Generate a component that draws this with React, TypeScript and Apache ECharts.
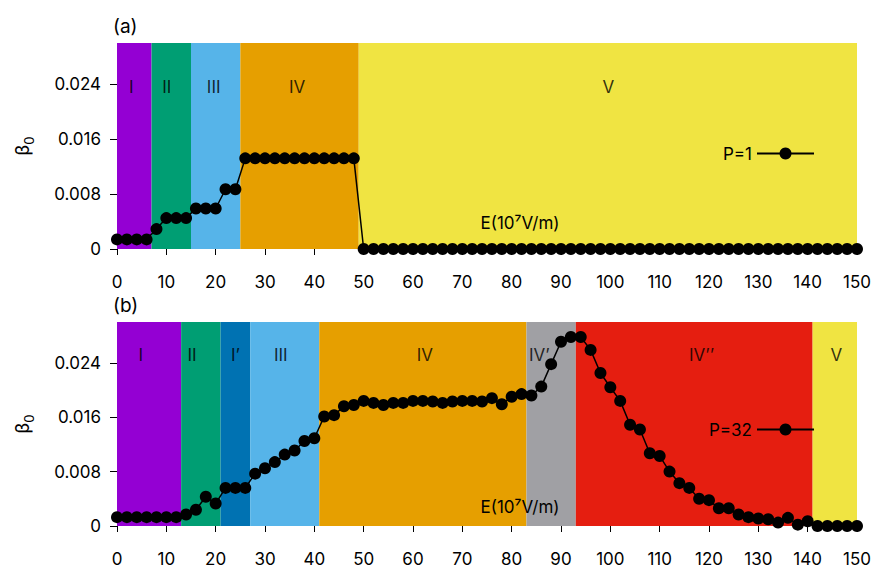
import React, { useEffect, useRef } from "react";
import * as echarts from "echarts";

// E values (10^7 V/m)
const E = [
  0, 2, 4, 6, 8, 10, 12, 14, 16, 18, 20, 22, 24, 26, 28, 30, 32, 34, 36, 38,
  40, 42, 44, 46, 48, 50, 52, 54, 56, 58, 60, 62, 64, 66, 68, 70, 72, 74, 76, 78,
  80, 82, 84, 86, 88, 90, 92, 94, 96, 98, 100, 102, 104, 106, 108, 110, 112, 114, 116, 118,
  120, 122, 124, 126, 128, 130, 132, 134, 136, 138, 140, 142, 144, 146, 148, 150,
];

// beta_0 for P=1
const betaP1 = [
  0.0014, 0.0014, 0.0014, 0.0014, 0.0029, 0.0045, 0.0045, 0.0045, 0.0059, 0.0059,
  0.0059, 0.0087, 0.0087, 0.0132, 0.0132, 0.0132, 0.0132, 0.0132, 0.0132, 0.0132,
  0.0132, 0.0132, 0.0132, 0.0132, 0.0132, 0, 0, 0, 0, 0,
  0, 0, 0, 0, 0, 0, 0, 0, 0, 0,
  0, 0, 0, 0, 0, 0, 0, 0, 0, 0,
  0, 0, 0, 0, 0, 0, 0, 0, 0, 0,
  0, 0, 0, 0, 0, 0, 0, 0, 0, 0,
  0, 0, 0, 0, 0, 0,
];

// beta_0 for P=32
const betaP32 = [
  0.0013, 0.0013, 0.0013, 0.0013, 0.0013, 0.0013, 0.0013, 0.0017, 0.0024, 0.0043,
  0.0033, 0.0056, 0.0056, 0.0056, 0.0077, 0.0085, 0.0094, 0.0105, 0.0111, 0.0125,
  0.0129, 0.0161, 0.0163, 0.0176, 0.0178, 0.0184, 0.0181, 0.0178, 0.0181, 0.0181,
  0.0184, 0.0184, 0.0183, 0.0181, 0.0183, 0.0184, 0.0184, 0.0183, 0.0188, 0.0179,
  0.019, 0.0194, 0.0192, 0.0205, 0.0238, 0.0271, 0.0278, 0.0278, 0.0259, 0.0225,
  0.0204, 0.0184, 0.0149, 0.0142, 0.0107, 0.0103, 0.008, 0.0063, 0.0056, 0.004,
  0.0038, 0.0026, 0.0026, 0.0017, 0.0013, 0.0011, 0.001, 0.0005, 0.0012, 0.0002,
  0.0007, 0, 0, 0, 0, 0,
];

const xTicksInterval = 10;
const yTicks = [0, 0.008, 0.016, 0.024];

// Regions (a)
const regionBoundsA = [0, 7, 15, 25, 49, 150];
const regionNamesA = ["I", "II", "III", "IV", "V"];
const regionLabelXA = [2.9, 10.1, 19.6, 36.5, 99.6];
// Regions (b)
const regionBoundsB = [0, 13, 21, 27, 41, 83, 93, 141, 150];
const regionNamesB = ["I", "II", "I’", "III", "IV", "IV’", "IV’’", "V"];
const regionLabelXB = [4.8, 15.2, 24.0, 33.2, 62.4, 85.6, 118.5, 145.8];

const colorsA = ["#9400D3", "#009E73", "#56B4E9", "#E69F00", "#F0E442"];
const colorsB = ["#9400D3", "#009E73", "#0072B2", "#56B4E9", "#E69F00", "#A0A0A4", "#E51E10", "#F0E442"];

const FONT = "Inter";

function makeArea(bounds: number[], colors: string[]) {
  const out: any[] = [];
  for (let i = 0; i < bounds.length - 1; i++) {
    out.push([
      { xAxis: bounds[i], itemStyle: { color: colors[i], opacity: 1 } },
      { xAxis: bounds[i + 1] },
    ]);
  }
  return out;
}

export default function App() {
  const ref = useRef<HTMLDivElement>(null);
  useEffect(() => {
    if (!ref.current) return;
    const chart = echarts.init(ref.current, undefined, { renderer: "svg" });
    const xAxisBase = (i: number) => ({
      type: "value",
      gridIndex: i,
      min: 0,
      max: 150,
      interval: xTicksInterval,
      axisLine: { show: false },
      axisTick: { show: true, length: 6, lineStyle: { color: "#000", width: 1 } },
      axisLabel: { color: "#000", fontSize: 17, margin: 24, fontFamily: FONT },
      splitLine: { show: false },
    });
    const yAxisBase = (i: number) => ({
      type: "value",
      gridIndex: i,
      min: 0,
      max: 0.03,
      name: "{a|β}{b|0}",
      nameLocation: "middle",
      nameGap: 82,
      nameRotate: 90,
      nameTextStyle: {
        color: "#000",
        fontFamily: FONT,
        rich: {
          a: { fontSize: 18, lineHeight: 26, fontFamily: FONT, color: "#000" },
          b: { fontSize: 13, lineHeight: 14, verticalAlign: "bottom", fontFamily: FONT, color: "#000" },
        },
      },
      axisLine: { show: false },
      axisTick: { show: true, length: 7, customValues: yTicks, lineStyle: { color: "#000", width: 1 } },
      axisLabel: {
        color: "#000",
        fontSize: 17,
        margin: 16,
        fontFamily: FONT,
        customValues: yTicks,
        formatter: (v: number) => (v === 0 ? "0" : v.toFixed(3)),
      },
      splitLine: { show: false },
    });
    const lineSeries = (name: string, vals: number[], idx: number, bounds: number[], colors: string[]) => ({
      name,
      type: "line",
      xAxisIndex: idx,
      yAxisIndex: idx,
      data: E.map((x, i) => [x, vals[i]]),
      symbol: "circle",
      symbolSize: 12,
      showAllSymbol: true,
      itemStyle: { color: "#000" },
      lineStyle: { color: "#000", width: 1.5 },
      z: 3,
      clip: false,
      markArea: { silent: true, z: 1, data: makeArea(bounds, colors) },
    });
    const labelSeries = (names: string[], xs: number[], y: number, idx: number) => ({
      type: "scatter",
      xAxisIndex: idx,
      yAxisIndex: idx,
      symbolSize: 1,
      silent: true,
      z: 5,
      itemStyle: { color: "rgba(0,0,0,0)" },
      label: {
        show: true,
        position: "inside",
        formatter: "{b}",
        color: "#000",
        fontSize: 17,
        fontFamily: FONT,
      },
      data: names.map((n, i) => ({ name: n, value: [xs[i], y] })),
    });
    const legendBase = (name: string, top: number) => ({
      data: [name],
      right: 56,
      top,
      align: "right",
      itemWidth: 57,
      itemHeight: 15,
      selectedMode: false,
      textStyle: { fontSize: 17, color: "#000", fontFamily: FONT },
    });
    const option: any = {
      animation: false,
      textStyle: { fontFamily: FONT },
      grid: [
        { left: 117, right: 19, top: 43, height: 206 },
        { left: 117, right: 19, top: 322, height: 206 },
      ],
      xAxis: [xAxisBase(0), xAxisBase(1)],
      yAxis: [yAxisBase(0), yAxisBase(1)],
      legend: [legendBase("P=1", 140), legendBase("P=32", 416)],
      series: [
        lineSeries("P=1", betaP1, 0, regionBoundsA, colorsA),
        lineSeries("P=32", betaP32, 1, regionBoundsB, colorsB),
        labelSeries(regionNamesA, regionLabelXA, 0.0236, 0),
        labelSeries(regionNamesB, regionLabelXB, 0.0252, 1),
      ],
      graphic: [
        { type: "text", left: 113, top: 17, style: { text: "(a)", fontSize: 19, fill: "#000", fontFamily: FONT } },
        { type: "text", left: 113, top: 296, style: { text: "(b)", fontSize: 19, fill: "#000", fontFamily: FONT } },
        {
          type: "text",
          x: 520,
          y: 223,
          style: { text: "E(10⁷V/m)", fontSize: 17, fill: "#000", fontFamily: FONT, align: "center", verticalAlign: "middle" },
          z: 10,
        },
        {
          type: "text",
          x: 520,
          y: 507,
          style: { text: "E(10⁷V/m)", fontSize: 17, fill: "#000", fontFamily: FONT, align: "center", verticalAlign: "middle" },
          z: 10,
        },
      ],
    };
    chart.setOption(option);
    return () => chart.dispose();
  }, []);
  return <div ref={ref} style={{ position: "absolute", left: 0, top: 0, width: 876, height: 567 }} />;
}
